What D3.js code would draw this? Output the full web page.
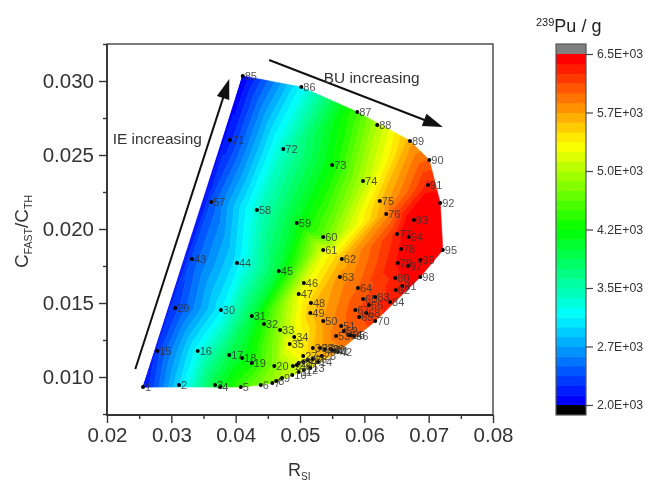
<!DOCTYPE html>
<html><head><meta charset="utf-8">
<script src="https://cdn.jsdelivr.net/npm/d3@7/dist/d3.min.js"></script>
<style>html,body{margin:0;padding:0;background:#fff}svg{display:block;filter:blur(0.35px)}text{font-family:"Liberation Sans",Arial,sans-serif}</style>
</head><body><svg id="c" width="654" height="486"></svg>
<script>
const rsi = [
.0256,.0312,.0368,.0376,.0408,.0439,.0457,.0463,.0472,.0488,.0498,.0506,.0516,.0528,
.0278,.0341,.0390,.0410,.0425,.0460,.0489,.0495,.0498,.0505,.0512,.0520,.0505,.0534,
.0306,.0377,.0425,.0444,.0469,.0491,.0484,.0520,.0531,.0539,.0547,.0550,.0554,.0559,
.0332,.0402,.0467,.0506,.0498,.0517,.0516,.0536,.0564,.0568,.0556,.0575,.0579,.0584,
.0362,.0433,.0495,.0536,.0536,.0565,.0562,.0590,.0598,.0607,.0586,.0603,.0592,.0617,
.0391,.0474,.0550,.0598,.0624,.0634,.0651,.0657,.0652,.0648,.0659,.0649,.0617,.0640,
.0411,.0502,.0589,.0620,.0671,.0701,.0699,.0718,.0677,.0669,.0722,.0687,.0668,.0687];
const cRatio = [
.00932,.00946,.00946,.00932,.00932,.00946,.00959,.00973,.00993,.01014,.01034,.01047,.01061,.01101,
.01176,.01176,.01149,.01128,.01095,.01074,.01074,.01081,.01095,.01101,.01115,.01122,.01142,.01142,
.01466,.01453,.01412,.01358,.01318,.01270,.01223,.01196,.01196,.01189,.01189,.01182,.01176,.01169,
.01797,.01770,.01716,.01635,.01561,.01500,.01432,.01378,.01345,.01311,.01277,.01284,.01284,.01277,
.02182,.02128,.02041,.01946,.01858,.01797,.01676,.01601,.01527,.01486,.01453,.01432,.01405,.01378,
.02601,.02541,.02432,.02324,.02189,.02101,.01966,.01865,.01770,.01669,.01615,.01588,.01541,.01507,
.03034,.02959,.02791,.02703,.02595,.02466,.02297,.02176,.02061,.01946,.01858,.01791,.01750,.01676];
const pu = [
2.1,3.0,4.0,4.1,4.5,4.8,4.9,5.0,5.05,5.1,5.15,5.2,5.3,5.4,
2.3,3.2,3.9,4.1,4.3,4.8,5.1,5.15,5.2,5.3,5.4,5.5,5.4,5.7,
2.3,3.1,3.95,4.4,4.9,5.2,5.35,5.6,5.7,5.7,5.75,5.75,5.8,5.8,
2.4,3.05,4.0,5.2,5.25,5.55,5.6,5.75,5.95,6.0,5.95,6.0,6.0,6.0,
2.4,3.35,4.1,4.65,5.2,5.65,5.8,6.0,6.1,6.2,6.1,6.2,6.1,6.2,
2.2,3.4,4.25,5.0,5.6,5.8,6.3,6.4,6.4,6.3,6.3,6.3,6.2,6.3,
2.0,3.15,4.5,5.0,5.7,6.0,6.3,6.5,6.6,6.5,6.6,6.5,6.5,6.5];
const xTicks = [0.02,0.03,0.04,0.05,0.06,0.07,0.08];
const yTicks = [0.010,0.015,0.020,0.025,0.030];
const barTicks = [2.0,2.75,3.5,4.25,5.0,5.75,6.5];
const barLabels = ["2.0E+03","2.7E+03","3.5E+03","4.2E+03","5.0E+03","5.7E+03","6.5E+03"];
const bandStep = 0.125;
const rampStops = ["#0000ff","#00ffff","#00ff00","#ffff00","#ff0000"];
const arrowIE = [[.0244,.01054],[.0390,.03014]];
const arrowBU = [[.0452,.03142],[.0722,.02689]];
const noteIE = {t:"IE increasing",x:.0209,y:.02574};
const noteBU = {t:"BU increasing",x:.0537,y:.02987};

const svg = d3.select("#c");
const X = d3.scaleLinear([0.02,0.08],[107,493]);
const Y = d3.scaleLinear([0.010,0.030],[377,81]);
const B = d3.scaleLinear([2,6.5],[405,54]);
const axisColor="#333";

// banded colour field
const nBands = Math.round((6.5-2)/bandStep);
const ramp = d3.scaleLinear().domain(d3.range(5).map(i=>i/4)).range(rampStops);
const bandColor = i => ramp(i/(nBands-1));
const pts = rsi.map((r,i)=>({x:X(r),y:Y(cRatio[i]),v:pu[i]}));
function clip(poly,th,keepAbove){
  const out=[];
  for(let i=0;i<poly.length;i++){
    const a=poly[i],b=poly[(i+1)%poly.length];
    const ain=keepAbove?a.v>=th:a.v<=th, bin=keepAbove?b.v>=th:b.v<=th;
    if(ain) out.push(a);
    if(ain!==bin){const t=(th-a.v)/(b.v-a.v);out.push({x:a.x+t*(b.x-a.x),y:a.y+t*(b.y-a.y),v:th});}
  }
  return out;
}
const del = d3.Delaunay.from(pts,d=>d.x,d=>d.y);
const paths = d3.range(nBands).map(()=>d3.path());
for(let t=0;t<del.triangles.length;t+=3){
  const tri=[pts[del.triangles[t]],pts[del.triangles[t+1]],pts[del.triangles[t+2]]];
  for(let b=0;b<nBands;b++){
    let p=tri;
    if(b>0) p=clip(p,2+b*bandStep,true);
    if(p.length&&b<nBands-1) p=clip(p,2+(b+1)*bandStep,false);
    if(p.length<3) continue;
    const path=paths[b];
    p.forEach((q,i)=>i?path.lineTo(q.x,q.y):path.moveTo(q.x,q.y));
    path.closePath();
  }
}
svg.append("g").selectAll("path").data(paths).join("path")
  .attr("d",d=>d.toString()).attr("fill",(d,i)=>bandColor(i)).attr("stroke",(d,i)=>bandColor(i)).attr("stroke-width",0.6);

// frame
const fx0=X(0.02),fx1=X(0.08),fyB=415,fyT=44;
svg.append("rect").attr("x",fx0).attr("y",fyT).attr("width",fx1-fx0).attr("height",fyB-fyT)
  .attr("fill","none").attr("stroke",axisColor).attr("stroke-width",1.3);
svg.append("path").attr("d",`M${fx0},${fyT}V${fyB}H${fx1}`).attr("fill","none").attr("stroke",axisColor).attr("stroke-width",1.8);

// axes
const gx=svg.append("g").attr("transform",`translate(0,${fyB})`).call(d3.axisBottom(X).tickValues(xTicks).tickFormat(d3.format(".2f")).tickSize(8).tickPadding(4));
const gxm=svg.append("g").attr("transform",`translate(0,${fyB})`).call(d3.axisBottom(X).tickValues(xTicks.slice(0,-1).map(v=>v+0.005)).tickFormat("").tickSize(4));
const gy=svg.append("g").attr("transform",`translate(${fx0},0)`).call(d3.axisLeft(Y).tickValues(yTicks).tickFormat(d3.format(".3f")).tickSize(8).tickPadding(5));
const gym=svg.append("g").attr("transform",`translate(${fx0},0)`).call(d3.axisLeft(Y).tickValues([0.0075,0.0125,0.0175,0.0225,0.0275,0.0325]).tickFormat("").tickSize(4));
[gx,gxm,gy,gym].forEach(g=>{g.select(".domain").remove();g.selectAll("line").attr("stroke",axisColor).attr("stroke-width",1.4);
  g.selectAll("text").attr("font-size",20.5).attr("fill","#333").attr("font-family",'"Liberation Sans",Arial,sans-serif');});

// axis titles
const xt=svg.append("text").attr("x",288).attr("y",476).attr("fill","#333").attr("font-size",18);
xt.append("tspan").text("R");
xt.append("tspan").text("SI").attr("font-size",10).attr("dy",4);
const yt=svg.append("text").attr("transform","translate(28,268) rotate(-90)").attr("fill","#333").attr("font-size",19);
yt.append("tspan").text("C");
yt.append("tspan").text("FAST").attr("font-size",10.5).attr("dy",4);
yt.append("tspan").text("/C").attr("dy",-4);
yt.append("tspan").text("TH").attr("font-size",10.5).attr("dy",4);

// points
svg.append("g").selectAll("circle").data(pts).join("circle")
  .attr("cx",d=>d.x).attr("cy",d=>d.y).attr("r",2).attr("fill","#000");
svg.append("g").selectAll("text").data(pts).join("text")
  .attr("x",d=>d.x+2).attr("y",d=>d.y+4).attr("font-size",11).attr("fill","#333").attr("fill-opacity",.85)
  .text((d,i)=>i+1);

// arrows
function arrow(a){
  const x0=X(a[0][0]),y0=Y(a[0][1]),x1=X(a[1][0]),y1=Y(a[1][1]);
  const L=Math.hypot(x1-x0,y1-y0),ux=(x1-x0)/L,uy=(y1-y0)/L,h=20,w=6.5;
  svg.append("line").attr("x1",x0).attr("y1",y0).attr("x2",x1-ux*h*.6).attr("y2",y1-uy*h*.6).attr("stroke","#111").attr("stroke-width",2);
  const bx=x1-ux*h,by=y1-uy*h;
  svg.append("path").attr("d",`M${x1},${y1}L${bx-uy*w},${by+ux*w}L${bx+uy*w},${by-ux*w}Z`).attr("fill","#111");
}
arrow(arrowIE);arrow(arrowBU);
[noteIE,noteBU].forEach(n=>svg.append("text").attr("x",X(n.x)).attr("y",Y(n.y)).attr("font-size",15.4).attr("fill","#333").text(n.t));

// colour bar
const bx0=556,bw=30;
svg.append("g").selectAll("rect").data(d3.range(nBands)).join("rect")
  .attr("x",bx0).attr("width",bw).attr("y",i=>B(2+(i+1)*bandStep)).attr("height",i=>B(2+i*bandStep)-B(2+(i+1)*bandStep)+.5)
  .attr("fill",bandColor);
svg.append("rect").attr("x",bx0).attr("width",bw).attr("y",44).attr("height",B(6.5)-44).attr("fill","#808080");
svg.append("rect").attr("x",bx0).attr("width",bw).attr("y",B(2)).attr("height",415-B(2)).attr("fill","#000");
svg.append("rect").attr("x",bx0).attr("width",bw).attr("y",44).attr("height",371).attr("fill","none").attr("stroke","#555").attr("stroke-width",1.2);
const gb=svg.append("g").attr("transform",`translate(${bx0+bw},0)`).call(d3.axisRight(B).tickValues(barTicks).tickFormat((d,i)=>barLabels[i]).tickSize(7).tickPadding(4));
gb.select(".domain").remove();
gb.selectAll("line").attr("stroke","#444").attr("stroke-width",1.2);
gb.selectAll("text").attr("font-size",12.3).attr("fill","#333").attr("font-family",'"Liberation Sans",Arial,sans-serif');
const bt=svg.append("text").attr("x",536).attr("y",32).attr("fill","#222").attr("font-size",18);
bt.append("tspan").text("239").attr("font-size",11).attr("dy",-6);
bt.append("tspan").text("Pu / g").attr("dy",6);
</script></body></html>
